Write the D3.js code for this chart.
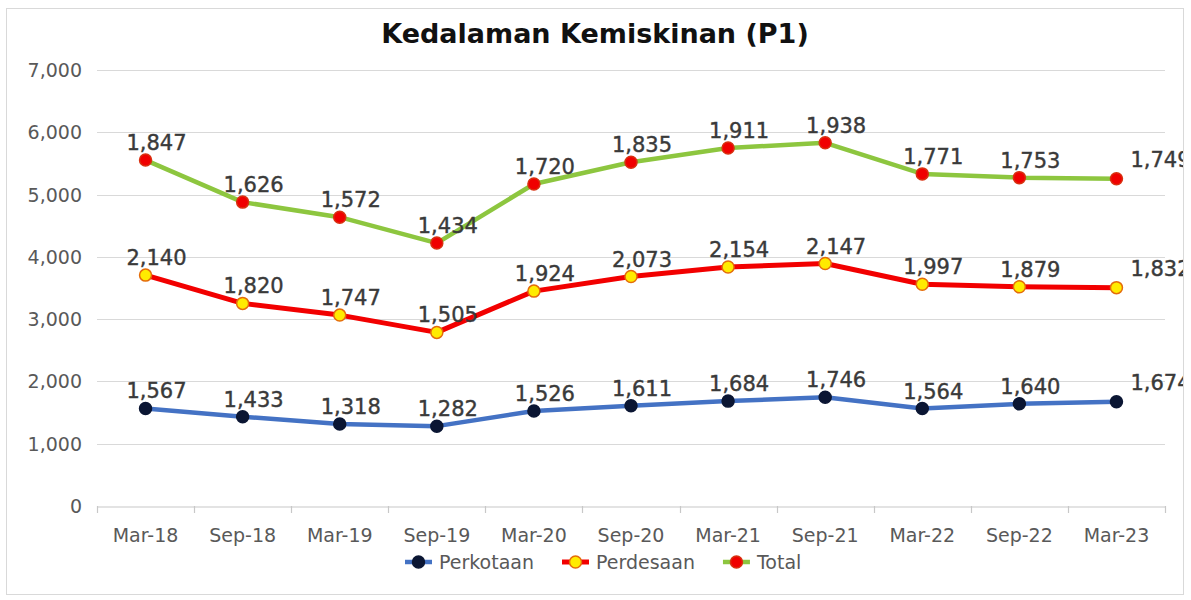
<!DOCTYPE html>
<html>
<head>
<meta charset="utf-8">
<script src="https://cdn.jsdelivr.net/npm/d3@7"></script>
<style>
  body { margin: 0; background: #fff; }
  text { font-family: "DejaVu Sans", sans-serif; }
</style>
</head>
<body>
<div id="chart"></div>
<script>
const canvas_w = 1191;
const canvas_h = 600;

const categories = ['Mar-18', 'Sep-18', 'Mar-19', 'Sep-19', 'Mar-20', 'Sep-20',
                    'Mar-21', 'Sep-21', 'Mar-22', 'Sep-22', 'Mar-23'];
const perkotaan  = [1567, 1433, 1318, 1282, 1526, 1611, 1684, 1746, 1564, 1640, 1674];
const perdesaan  = [2140, 1820, 1747, 1505, 1924, 2073, 2154, 2147, 1997, 1879, 1832];
const total      = [1847, 1626, 1572, 1434, 1720, 1835, 1911, 1938, 1771, 1753, 1749];
const yTicks     = [0, 1000, 2000, 3000, 4000, 5000, 6000, 7000];

const seriesNames = ['Perkotaan', 'Perdesaan', 'Total'];
const seriesData  = [perkotaan, perdesaan, total];

// stacked line chart (labels show each series' own value)
const stack = d3.stack().keys(d3.range(seriesData.length))
                .value((d, k) => seriesData[k][d])(d3.range(categories.length));

const styles = [
  { line: '#4472C4', fill: '#0b1633', stroke: '#0b1633', width: 4.5 },
  { line: '#F20000', fill: '#FFEB00', stroke: '#E46C0A', width: 5 },
  { line: '#8DC63F', fill: '#F00000', stroke: '#D83010', width: 4.5 }
];

const margin = { left: 97, right: 26, top: 70, bottom: 94 };

let x = d3.scaleBand()
          .domain(categories)
          .range([margin.left, canvas_w - margin.right]);

let y = d3.scaleLinear()
          .domain([0, 7000])
          .range([canvas_h - margin.bottom, margin.top]);

let svg = d3.select('#chart')
            .append('svg')
            .attr('width', canvas_w)
            .attr('height', canvas_h);

svg.append('clipPath').attr('id', 'frame')
   .append('rect').attr('x', 6).attr('y', 8).attr('width', 1177).attr('height', 586);

svg.append('rect')
   .attr('x', 6.5).attr('y', 8.5).attr('width', 1177).attr('height', 586)
   .attr('fill', '#fff').attr('stroke', '#d9d9d9');

let g = svg.append('g').attr('clip-path', 'url(#frame)');

// title
g.append('text')
 .attr('x', 595).attr('y', 43)
 .attr('text-anchor', 'middle')
 .attr('font-size', 27).attr('font-weight', 'bold').attr('fill', '#111')
 .text('Kedalaman Kemiskinan (P1)');

// gridlines + y labels
g.selectAll('.grid')
 .data(yTicks.filter(d => d > 0))
 .enter().append('line')
 .attr('x1', x.range()[0]).attr('x2', x.range()[1])
 .attr('y1', d => Math.round(y(d)) + 0.5).attr('y2', d => Math.round(y(d)) + 0.5)
 .attr('stroke', '#d9d9d9').attr('stroke-width', 1.2);

g.selectAll('.ylab')
 .data(yTicks)
 .enter().append('text')
 .attr('x', 82).attr('y', d => y(d) + 7)
 .attr('text-anchor', 'end')
 .attr('font-size', 19).attr('fill', '#595959')
 .text(d => d3.format(',')(d));

// x axis
let xAxis = d3.axisBottom(x).tickSize(0).tickPadding(22);
let ax = g.append('g')
          .attr('transform', `translate(0, ${Math.round(y(0)) + 0.5})`)
          .call(xAxis);
ax.select('.domain').attr('stroke', '#c8c8c8').attr('stroke-width', 1.2);
ax.selectAll('text').attr('font-size', 19).attr('fill', '#595959')
  .attr('font-family', '"DejaVu Sans", sans-serif');

g.selectAll('.xtick')
 .data(d3.range(categories.length + 1))
 .enter().append('line')
 .attr('x1', i => Math.round(x.range()[0] + i * x.step()) + 0.5)
 .attr('x2', i => Math.round(x.range()[0] + i * x.step()) + 0.5)
 .attr('y1', y(0)).attr('y2', y(0) + 7)
 .attr('stroke', '#c8c8c8').attr('stroke-width', 1.2);

const cx = c => x(c) + x.bandwidth() / 2;

let line = d3.line()
             .x((d, i) => cx(categories[i]))
             .y(d => y(d[1]));

stack.forEach((s, k) => {
  g.append('path')
   .datum(s)
   .attr('d', line)
   .attr('fill', 'none')
   .attr('stroke', styles[k].line)
   .attr('stroke-width', styles[k].width)
   .attr('stroke-linejoin', 'round');
});

stack.forEach((s, k) => {
  g.selectAll('.m' + k)
   .data(s)
   .enter().append('circle')
   .attr('cx', (d, i) => cx(categories[i]))
   .attr('cy', d => y(d[1]))
   .attr('r', 6)
   .attr('fill', styles[k].fill)
   .attr('stroke', styles[k].stroke)
   .attr('stroke-width', 1.5);
});

// data labels
const last = categories.length - 1;
stack.forEach((s, k) => {
  g.selectAll('.l' + k)
   .data(s)
   .enter().append('text')
   .attr('x', (d, i) => cx(categories[i]) + (i === last ? 14 : 11))
   .attr('y', (d, i) => y(d[1]) - (i === last ? 12 : 10))
   .attr('text-anchor', (d, i) => i === last ? 'start' : 'middle')
   .attr('font-size', 21).attr('fill', '#3a3a3a')
   .attr('stroke', '#3a3a3a').attr('stroke-width', 0.4)
   .text((d, i) => d3.format(',')(seriesData[k][i]));
});

// legend
let lx = 405;
const ly = 562;
seriesNames.forEach((name, k) => {
  let item = g.append('g');
  item.append('line')
      .attr('x1', lx).attr('x2', lx + 27).attr('y1', ly).attr('y2', ly)
      .attr('stroke', styles[k].line).attr('stroke-width', styles[k].width);
  item.append('circle')
      .attr('cx', lx + 13.5).attr('cy', ly).attr('r', 6)
      .attr('fill', styles[k].fill).attr('stroke', styles[k].stroke).attr('stroke-width', 1.5);
  let t = item.append('text')
      .attr('x', lx + 34).attr('y', ly + 7)
      .attr('font-size', 19).attr('fill', '#595959')
      .text(name);
  lx += 34 + t.node().getComputedTextLength() + 28;
});
</script>
</body>
</html>
